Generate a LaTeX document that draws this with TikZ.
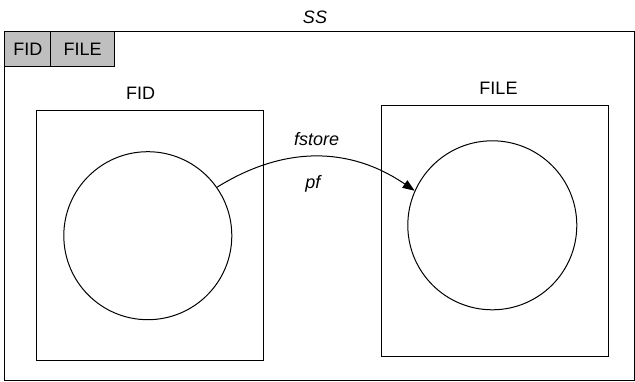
\documentclass[tikz,border=0pt]{standalone}
\usepackage{fontspec}
\setmainfont{Liberation Sans}
\usetikzlibrary{arrows.meta}
\begin{document}
\begin{tikzpicture}[x=1pt,y=-1pt,
  frame/.style={draw,line width=1pt,inner sep=0pt,outer sep=0pt},
  tab/.style={frame,fill=gray!50,font=\fontsize{18}{20}\selectfont},
  pool/.style={draw,circle,line width=1pt,inner sep=0pt,minimum size=168pt},
  lbl/.style={font=\fontsize{18}{20}\selectfont,inner sep=0pt},
  ilbl/.style={lbl,font=\fontsize{18}{20}\selectfont\itshape}]
\useasboundingbox (0,0) rectangle (635,382);
% outer container and its tabs
\node[frame,minimum width=629.5pt,minimum height=349pt] (ss) at (319.7,206.2) {};
\node[ilbl] (sslbl) at (315,17.5) {SS};
\node[tab,minimum width=45.7pt,minimum height=35pt] (tabfid) at (27.8,49.2) {FID};
\node[tab,minimum width=64pt,minimum height=35pt] (tabfile) at (82.6,49.2) {FILE};
% the two domains
\node[frame,minimum width=226.8pt,minimum height=250pt] (fidbox) at (150.2,235.7) {};
\node[lbl] (fidlbl) at (140.5,93.7) {FID};
\node[frame,minimum width=227pt,minimum height=250.7pt] (filebox) at (494.5,231.3) {};
\node[lbl] (filelbl) at (498.5,88.7) {FILE};
\node[pool] (fidpool) at (147.8,235.7) {};
\node[pool,minimum size=169pt] (filepool) at (492.3,225.3) {};
% the map between them
\draw[line width=1pt,-{Triangle[length=12pt,width=9pt]}]
  (fidpool.35) .. controls +(66,-41) and +(-66,-45) .. (filepool.156);
\node[ilbl] (fstore) at (316.6,138.7) {fstore};
\node[ilbl] (pf) at (312.8,184) {pf};
\end{tikzpicture}
\end{document}
